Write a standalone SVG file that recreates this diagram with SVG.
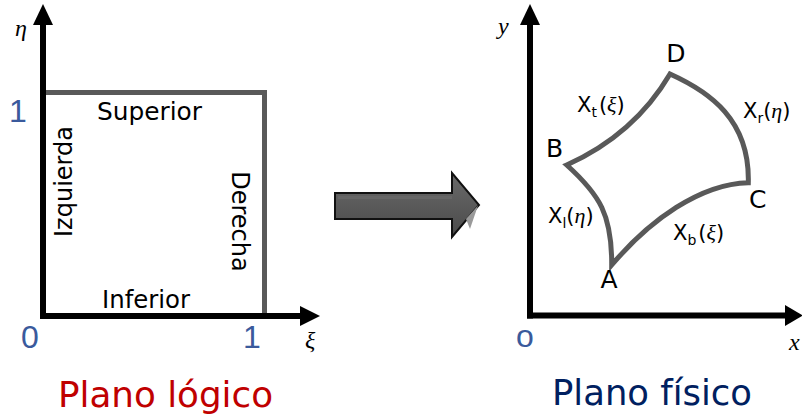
<svg xmlns="http://www.w3.org/2000/svg" width="802" height="419" viewBox="0 0 802 419">
<defs>
<style>
.axis{stroke:#000;stroke-width:6;fill:none}
.head{fill:#000}
.edge{stroke:#595959;stroke-width:5;fill:none;stroke-linejoin:miter}
.word{font-family:"DejaVu Sans",Verdana,sans-serif;font-size:24px;fill:#000}
.num{font-family:"Liberation Sans",Arial,sans-serif;font-size:32px;fill:#3a5a9c}
.greek{font-family:"Liberation Serif","Times New Roman",serif;font-style:italic;font-size:24px;fill:#000}
.lab{font-family:"DejaVu Sans",Verdana,sans-serif;font-size:21px;fill:#000}
.sub{font-size:14px}
.gr{font-family:"Liberation Serif","Times New Roman",serif;font-style:italic;font-size:22px}
.corner{font-family:"DejaVu Sans",Verdana,sans-serif;font-size:25px;fill:#000}
.title{font-family:"DejaVu Sans",Tahoma,sans-serif;font-size:36px}
</style>
<linearGradient id="arrowGrad" x1="0" y1="0" x2="0" y2="1">
<stop offset="0" stop-color="#6a6a6a"/>
<stop offset="0.5" stop-color="#5a5a5a"/>
<stop offset="1" stop-color="#4a4a4a"/>
</linearGradient>
</defs>

<g id="logical-plane">
<g id="logical-square">
<polyline class="edge" points="40,92.5 264.5,92.5 264.5,318"/>
</g>
<g id="logical-axes">
<line class="axis" x1="43" y1="319" x2="43" y2="22"/>
<polygon class="head" points="33,25 43,4 53,25"/>
<line class="axis" x1="40" y1="316" x2="302" y2="316"/>
<polygon class="head" points="300,306 320,316 300,326"/>
</g>
<text class="greek" x="15" y="36">η</text>
<text class="greek" x="305" y="348">ξ</text>
<text class="num" x="9" y="122">1</text>
<text class="num" x="21" y="348">0</text>
<text class="num" x="243" y="348">1</text>
<text class="word" x="97" y="120" textLength="105" lengthAdjust="spacingAndGlyphs">Superior</text>
<text class="word" x="102" y="308" textLength="88" lengthAdjust="spacingAndGlyphs">Inferior</text>
<text class="word" text-anchor="middle" transform="translate(72,181.5) rotate(-90)">Izquierda</text>
<text class="word" text-anchor="middle" transform="translate(232,221.5) rotate(90)">Derecha</text>
<text class="title" x="58" y="407" fill="#c00000" textLength="215" lengthAdjust="spacingAndGlyphs">Plano lógico</text>
</g>

<g id="transform-arrow">
<polygon points="335,193 452,193 452,173 479,205 452,237 452,219 335,219" fill="url(#arrowGrad)" stroke="#111" stroke-width="2" stroke-linejoin="miter"/>
<polygon points="466,219 478,205.5 470,229" fill="#9a9a9a"/>
<polygon points="338,196 452,196 452,199 338,199" fill="#666"/>
</g>

<g id="physical-plane">
<g id="physical-axes">
<line class="axis" x1="530" y1="318.5" x2="530" y2="22"/>
<polygon class="head" points="520,25 530,4 540,25"/>
<line class="axis" x1="527" y1="315.5" x2="787" y2="315.5"/>
<polygon class="head" points="785,305 803,315.5 785,326"/>
</g>
<g id="physical-region">
<path class="edge" d="M611.7,265 C612,215 600,195 566.7,165 C600,150 640,125 670,74 C710,92 750,120 748.3,182.7 C700,184 650,220 611.7,265 Z"/>
</g>
<text class="greek" x="498" y="34">y</text>
<text class="greek" x="789" y="350">x</text>
<text class="num" x="516" y="347">o</text>
<text class="corner" x="676" y="62" text-anchor="middle">D</text>
<text class="corner" x="546" y="157">B</text>
<text class="corner" x="749" y="208">C</text>
<text class="corner" x="609" y="288" text-anchor="middle">A</text>
<text class="lab" x="577" y="112">X<tspan class="sub" dy="5">t</tspan><tspan dy="-5" dx="2">(</tspan><tspan class="gr">ξ</tspan>)</text>
<text class="lab" x="743" y="118">X<tspan class="sub" dy="5">r</tspan><tspan dy="-5">(</tspan><tspan class="gr">η</tspan>)</text>
<text class="lab" x="548" y="223">X<tspan class="sub" dy="5">l</tspan><tspan dy="-5">(</tspan><tspan class="gr">η</tspan>)</text>
<text class="lab" x="673" y="240">X<tspan class="sub" dy="5">b</tspan><tspan dy="-5" dx="2">(</tspan><tspan class="gr">ξ</tspan>)</text>
<text class="title" x="552" y="405" fill="#002060" textLength="200" lengthAdjust="spacingAndGlyphs">Plano físico</text>
</g>
</svg>
